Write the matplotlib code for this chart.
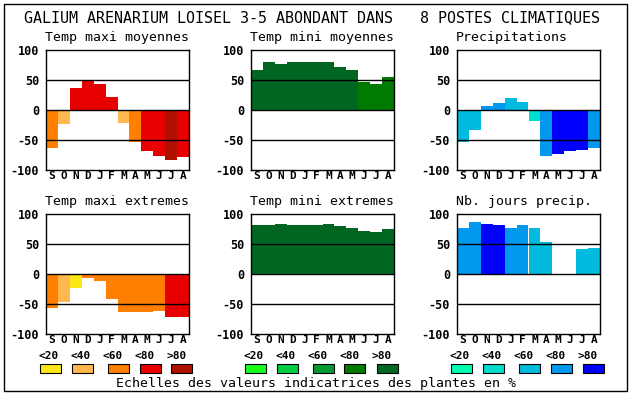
import matplotlib
matplotlib.use("Agg")
import matplotlib.pyplot as plt
from matplotlib.patches import Rectangle

# ---------------- data ----------------
months = ['S', 'O', 'N', 'D', 'J', 'F', 'M', 'A', 'M', 'J', 'J', 'A']
scale_labels = ['<20', '<40', '<60', '<80', '>80']

temp_colors = ['#FFE617', '#FFB84D', '#FF8000', '#E80000', '#B01000']
green_colors = ['#1AFF1A', '#00CC44', '#009933', '#007A00', '#006622']
blue_colors = ['#00FFB3', '#00DDCC', '#00BBDD', '#0099EE', '#0000FF']

tmax_moy = [-63, -23, 37, 49, 44, 22, -21, -54, -68, -77, -84, -78]
tmax_moy_cls = [2, 1, 3, 3, 3, 3, 1, 2, 3, 3, 4, 3]

tmin_moy = [67, 80, 77, 80, 80, 80, 80, 72, 67, 47, 44, 55]
tmin_moy_cls = [4, 4, 4, 4, 4, 4, 4, 4, 4, 3, 3, 3]

precip = [-53, -34, 7, 12, 20, 14, -18, -76, -73, -68, -66, -64]
precip_cls = [2, 2, 3, 3, 2, 2, 1, 3, 4, 4, 4, 3]

tmax_ext = [-57, -47, -24, -6, -12, -42, -64, -63, -63, -61, -72, -71]
tmax_ext_cls = [2, 1, 0, 2, 2, 2, 2, 2, 2, 2, 3, 3]

tmin_ext = [81, 82, 84, 82, 82, 82, 84, 80, 77, 72, 70, 75]
tmin_ext_cls = [4, 4, 4, 4, 4, 4, 4, 4, 4, 4, 4, 4]

nb_jours = [77, 87, 84, 82, 77, 82, 77, 54, 0, 0, 41, 44]
nb_jours_cls = [3, 3, 4, 4, 3, 3, 2, 2, 0, 0, 2, 2]

yticks = [-100, -50, 0, 50, 100]

title = "GALIUM ARENARIUM LOISEL 3-5 ABONDANT DANS   8 POSTES CLIMATIQUES"
footer = "Echelles des valeurs indicatrices des plantes en %"

panels = [
    ("Temp maxi moyennes", tmax_moy, tmax_moy_cls, temp_colors),
    ("Temp mini moyennes", tmin_moy, tmin_moy_cls, green_colors),
    ("Precipitations", precip, precip_cls, blue_colors),
    ("Temp maxi extremes", tmax_ext, tmax_ext_cls, temp_colors),
    ("Temp mini extremes", tmin_ext, tmin_ext_cls, green_colors),
    ("Nb. jours precip.", nb_jours, nb_jours_cls, blue_colors),
]

# ---------------- layout ----------------
W, H = 630, 394
fig = plt.figure(figsize=(W / 100, H / 100), dpi=100)
MONO = 'DejaVu Sans Mono'

def fx(px):
    return px / W

def fy(py):
    return 1 - py / H

col_left = [46, 251, 457]
ax_w = 143
rows = [(50, 170), (214, 334)]

fig.patches.append(Rectangle((fx(4), fy(391)), fx(623), (387) / H, transform=fig.transFigure,
                             fill=False, edgecolor='black', linewidth=1.0))

fig.text(fx(312), fy(18), title, family=MONO, fontsize=10.8, ha='center', va='center')

for i, (name, vals, cls, cols) in enumerate(panels):
    r, c = divmod(i, 3)
    top, bot = rows[r]
    left = col_left[c]
    ax = fig.add_axes([fx(left), fy(bot), fx(ax_w), (bot - top) / H])
    x = list(range(len(months)))
    ax.bar(x, vals, width=1.0, color=[cols[k] for k in cls], zorder=1, linewidth=0)
    for yv in (-50, 0, 50):
        ax.axhline(yv, color='black', linewidth=1.0, zorder=3)
    ax.set_xlim(-0.5, 11.5)
    ax.set_ylim(-100, 100)
    ax.set_yticks(yticks)
    ax.set_yticklabels([str(v) for v in yticks], family=MONO, fontweight='bold', fontsize=8.5)
    ax.set_xticks(x)
    ax.set_xticklabels(months, family=MONO, fontweight='bold', fontsize=8)
    ax.tick_params(axis='x', length=0, pad=1)
    ax.tick_params(axis='y', length=0, pad=5)
    for s in ax.spines.values():
        s.set_linewidth(1.0)
        s.set_zorder(4)
    fig.text(fx(left - 1), fy(top - 12), name, family=MONO, fontsize=9.5, ha='left', va='center')

    if r == 1:
        lab_off = [3, 35, 67, 99, 131]
        sw_off = [4, 36, 72, 104, 136]
        for k in range(5):
            fig.text(fx(left + lab_off[k]), fy(356), scale_labels[k], family=MONO,
                     fontweight='bold', fontsize=8, ha='center', va='center')
            cx = left + sw_off[k]
            fig.patches.append(Rectangle((fx(cx - 10.5), fy(373)), fx(21), 9 / H,
                                         transform=fig.transFigure, facecolor=cols[k],
                                         edgecolor='black', linewidth=0.8))

fig.text(fx(316), fy(383), footer, family=MONO, fontsize=9.5, ha='center', va='center')

fig.savefig('out.png', dpi=100)
